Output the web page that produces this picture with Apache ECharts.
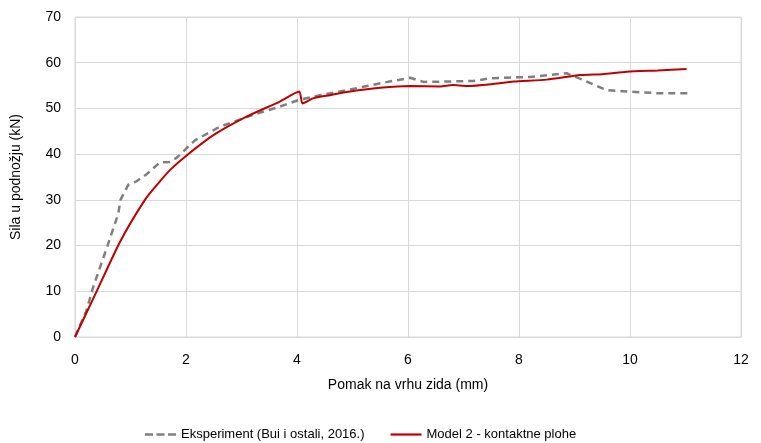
<!DOCTYPE html>
<html><head><meta charset="utf-8">
<script src="https://cdn.jsdelivr.net/npm/echarts@6/dist/echarts.min.js"></script>
<style>html,body{margin:0;padding:0;background:#fff}#c{width:761px;height:443px}</style>
</head><body><div id="c"></div>
<script>
const xTicks = [0, 2, 4, 6, 8, 10, 12];
const yTicks = [0, 10, 20, 30, 40, 50, 60, 70];
const seriesNames = ['Eksperiment (Bui i ostali, 2016.)', 'Model 2 - kontaktne plohe'];
const experiment = [[0,0],[0.21,5.9],[0.33,11],[0.57,19.4],[0.78,27],[0.82,30],[0.96,33.3],[1.1,34],[1.29,35.6],[1.53,38.2],[1.7,38.3],[1.83,39.2],[2.16,43],[2.61,46],[3.21,48.6],[3.69,50.4],[4.02,51.8],[4.41,52.9],[4.9,54.0],[5.5,55.5],[6.04,56.7],[6.28,55.8],[7.18,56.0],[7.48,56.6],[8.2,56.9],[8.56,57.3],[8.86,57.7],[9.16,56.2],[9.58,54.0],[9.94,53.7],[10.54,53.3],[11.05,53.3]];
const model2 = [[0,0],[0.36,9.2],[0.81,20.8],[1.26,30],[1.5,33.6],[1.71,36.5],[2.0,39.6],[2.5,44.2],[3.09,48.2],[3.69,51.5],[4.04,53.7],[4.1,51.1],[4.29,52.2],[4.59,52.9],[4.9,53.6],[5.5,54.5],[6.04,54.9],[6.58,54.8],[6.8,55.1],[7.06,54.9],[7.5,55.3],[7.9,55.9],[8.5,56.3],[9.1,57.3],[9.5,57.5],[9.94,58.0],[10.5,58.3],[11.02,58.6]];
const xName = 'Pomak na vrhu zida (mm)';
const yName = 'Sila u podnožju (kN)';
const FONT = '"Liberation Sans", Arial, sans-serif';
const chart = echarts.init(document.getElementById('c'), null, {renderer: 'canvas'});
chart.setOption({
  animation: false,
  backgroundColor: '#fff',
  grid: {left: 75, right: 20, top: 17, bottom: 106, containLabel: false, show: true, borderColor: '#d9d9d9', borderWidth: 1},
  xAxis: {
    type: 'value', min: xTicks[0], max: xTicks[xTicks.length-1], interval: 2,
    name: xName, nameLocation: 'middle', nameGap: 41,
    nameTextStyle: {fontFamily: FONT, fontSize: 14, color: '#000'},
    axisLine: {show: true, lineStyle: {color: '#d9d9d9'}},
    axisTick: {show: false},
    axisLabel: {fontFamily: FONT, fontSize: 14, color: '#000', margin: 16},
    splitLine: {show: true, lineStyle: {color: '#d9d9d9', width: 1}}
  },
  yAxis: {
    type: 'value', min: yTicks[0], max: yTicks[yTicks.length-1], interval: 10,
    name: yName, nameLocation: 'middle', nameGap: 52,
    nameTextStyle: {fontFamily: FONT, fontSize: 14, color: '#000'},
    axisLine: {show: true, lineStyle: {color: '#d9d9d9'}},
    axisTick: {show: false},
    axisLabel: {fontFamily: FONT, fontSize: 14, color: '#000', margin: 14},
    splitLine: {show: true, lineStyle: {color: '#d9d9d9', width: 1}}
  },
  legend: {
    top: 423, left: 140, itemWidth: 31, itemHeight: 14, itemGap: 26,
    textStyle: {fontFamily: FONT, fontSize: 13, color: '#000'},
    data: [
      {name: seriesNames[0], icon: 'path://M0,0h8v2.5h-8z M11.5,0h8v2.5h-8z M23,0h8v2.5h-8z', itemStyle: {color: '#7f7f7f'}},
      {name: seriesNames[1], icon: 'path://M0,0h31v2.2h-31z', itemStyle: {color: '#c00000'}}
    ]
  },
  series: [
    {name: seriesNames[0], type: 'line', data: experiment, symbol: 'none', smooth: false,
     lineStyle: {color: '#7f7f7f', width: 2.5, type: [7, 5]}, itemStyle: {color: '#7f7f7f'}, z: 2},
    {name: seriesNames[1], type: 'line', data: model2, symbol: 'none', smooth: 0.2,
     lineStyle: {color: '#c00000', width: 2}, itemStyle: {color: '#c00000'}, z: 3}
  ]
});
</script></body></html>
